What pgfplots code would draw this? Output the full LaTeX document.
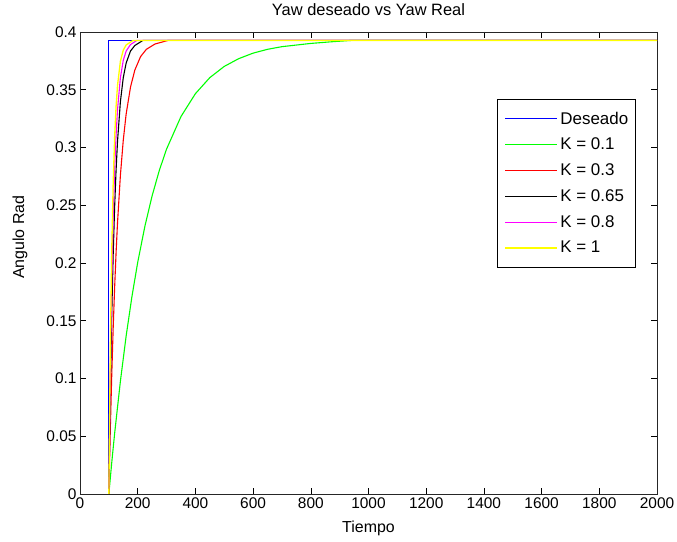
\documentclass[border=0pt]{standalone}
\usepackage{fontspec}
\setmainfont{Liberation Sans}
\usepackage{pgfplots}
\pgfplotsset{compat=1.18}
\definecolor{mblue}{RGB}{0,0,255}
\definecolor{mgreen}{RGB}{0,255,0}
\definecolor{mred}{RGB}{255,0,0}
\definecolor{mmag}{RGB}{255,0,255}
\definecolor{myel}{RGB}{255,255,0}
\newcommand{\tickf}{\fontsize{15.5}{18}\selectfont}
\newcommand{\labf}{\fontsize{16}{18}\selectfont}
\newcommand{\titf}{\fontsize{16.5}{19}\selectfont}
\newcommand{\legf}{\fontsize{17}{19}\selectfont}
\begin{document}
\begin{tikzpicture}
\begin{axis}[
  scale only axis, width=577bp, height=462bp,
  xmin=0, xmax=2000, ymin=0, ymax=0.4,
  xtick={0,200,400,600,800,1000,1200,1400,1600,1800,2000},
  ytick={0,0.05,0.1,0.15,0.2,0.25,0.3,0.35,0.4},
  scaled x ticks=false, scaled y ticks=false,
  xticklabel style={/pgf/number format/1000 sep={}},
  yticklabel style={/pgf/number format/.cd, fixed, precision=2},
  /pgf/number format/assume math mode=true,
  tick align=inside, major tick length=6bp,
  every tick/.style={black, line width=0.6bp},
  axis line style={line width=0.6bp, black!85},
  tick label style={font=\tickf},
  xlabel style={font=\labf, at={(axis description cs:0.5,0)}, anchor=base, yshift=-39bp},
  ylabel style={font=\labf, at={(axis description cs:-0.1040,0.556)}, anchor=center, rotate=0},
  title style={font=\titf, at={(axis description cs:0.5,1)}, anchor=base, yshift=11bp},
  title={Yaw deseado vs Yaw Real},
  xlabel={Tiempo}, ylabel={Angulo Rad},
  legend style={at={(0.9636,0.855)}, anchor=north east, draw=black, fill=white,
    line width=0.6bp, font=\legf, inner xsep=7bp, inner ysep=12bp, row sep=11.5bp,
    column sep=2bp, nodes={inner sep=0.5bp}},
  legend cell align=left,
  legend image code/.code={\draw[mark repeat=2,mark phase=2,#1] plot coordinates {(0bp,0bp) (26bp,0bp) (52bp,0bp)};},
]
\addplot[color=mblue, line width=1.1bp] coordinates {(100,0) (100,0.3927) (2000,0.3927)};
\addlegendentry{Deseado}
\addplot[color=mgreen, line width=1.1bp] coordinates {
(100,0) (110,0.0271) (120,0.0523) (140,0.0976) (160,0.1369) (180,0.1709) (200,0.2005)
(225,0.2319) (250,0.2582) (275,0.2802) (300,0.2986) (350,0.3268) (400,0.3466)
(450,0.3605) (500,0.3702) (550,0.3769) (600,0.3817) (650,0.3850) (700,0.3873)
(800,0.3901) (870,0.3915) (940,0.3927) (2000,0.3927)};
\addlegendentry{K = 0.1}
\addplot[color=mred, line width=1.1bp] coordinates {
(100,0) (105,0.0552) (110,0.1026) (115,0.1434) (120,0.1785) (125,0.2086) (130,0.2345)
(140,0.2758) (150,0.3064) (160,0.3290) (175,0.3522) (190,0.3670) (210,0.3787)
(230,0.3850) (260,0.3896) (305,0.3927) (2000,0.3927)};
\addlegendentry{K = 0.3}
\addplot[color=black, line width=1.1bp] coordinates {
(100,0) (105,0.0869) (110,0.1545) (115,0.2072) (120,0.2482) (125,0.2802) (130,0.3051)
(140,0.3396) (150,0.3605) (160,0.3731) (175,0.3835) (190,0.3883) (218,0.3927) (2000,0.3927)};
\addlegendentry{K = 0.65}
\addplot[color=mmag, line width=1.1bp] coordinates {
(100,0) (105,0.1054) (110,0.1825) (115,0.2389) (120,0.2802) (125,0.3104) (130,0.3325)
(140,0.3605) (150,0.3755) (160,0.3835) (175,0.3891) (197,0.3927) (2000,0.3927)};
\addlegendentry{K = 0.8}
\addplot[color=myel, line width=1.3bp] coordinates {
(100,0) (105,0.1254) (110,0.2107) (115,0.2688) (120,0.3084) (125,0.3353) (130,0.3536)
(140,0.3746) (150,0.3843) (160,0.3888) (184,0.3927) (2000,0.3927)};
\addlegendentry{K = 1}
\end{axis}
\pgfresetboundingbox
\path (current axis.south west) ++(-80bp,-48bp) rectangle ([shift={(20bp,32bp)}]current axis.north east);
\end{tikzpicture}
\end{document}
